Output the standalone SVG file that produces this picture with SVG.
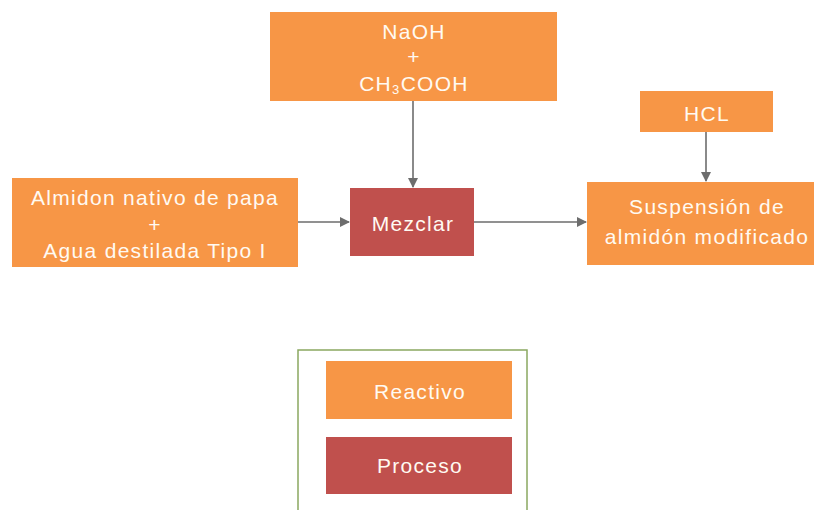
<svg xmlns="http://www.w3.org/2000/svg" width="814" height="510" viewBox="0 0 814 510">
<defs>
<marker id="ah" markerWidth="10" markerHeight="10" refX="9" refY="5" orient="auto" markerUnits="userSpaceOnUse">
<path d="M0,0 L10,5 L0,10 z" fill="#6d6d6d"/>
</marker>
<style>
.r{fill:#F79646;}
.p{fill:#C0504D;}
text{font-family:"Liberation Sans",Arial,sans-serif;font-size:21px;letter-spacing:1.3px;fill:#fffaf2;text-anchor:middle;}
.c{stroke:#6d6d6d;stroke-width:1.6;fill:none;marker-end:url(#ah);}
</style>
</defs>
<rect width="814" height="510" fill="#ffffff"/>
<g id="connectors">
<line class="c" x1="413" y1="101" x2="413" y2="187"/>
<line class="c" x1="298" y1="222" x2="349" y2="222"/>
<line class="c" x1="474" y1="222" x2="586" y2="222"/>
<line class="c" x1="706" y1="132" x2="706" y2="181"/>
</g>
<g id="naoh">
<rect class="r" x="270" y="12" width="287" height="89"/>
<text x="414" y="39">NaOH</text>
<text x="414" y="64">+</text>
<text x="414" y="91">CH<tspan font-size="13" dy="3">3</tspan><tspan dy="-3">COOH</tspan></text>
</g>
<g id="almidon">
<rect class="r" x="12" y="178" width="286" height="89"/>
<text x="155" y="205">Almidon nativo de papa</text>
<text x="155" y="232">+</text>
<text x="155" y="258">Agua destilada Tipo I</text>
</g>
<g id="mezclar">
<rect class="p" x="350" y="188" width="124" height="68"/>
<text x="413" y="231">Mezclar</text>
</g>
<g id="hcl">
<rect class="r" x="640" y="91" width="133" height="41"/>
<text x="707" y="121">HCL</text>
</g>
<g id="suspension">
<rect class="r" x="587" y="182" width="227" height="83"/>
<text x="707" y="214">Suspensión de</text>
<text x="707" y="244">almidón modificado</text>
</g>
<g id="legend">
<rect x="298" y="350" width="229" height="170" fill="none" stroke="#8aa860" stroke-width="1.5"/>
<rect class="r" x="326" y="361" width="186" height="58"/>
<text x="420" y="399">Reactivo</text>
<rect class="p" x="326" y="437" width="186" height="57"/>
<text x="420" y="473">Proceso</text>
</g>
</svg>
